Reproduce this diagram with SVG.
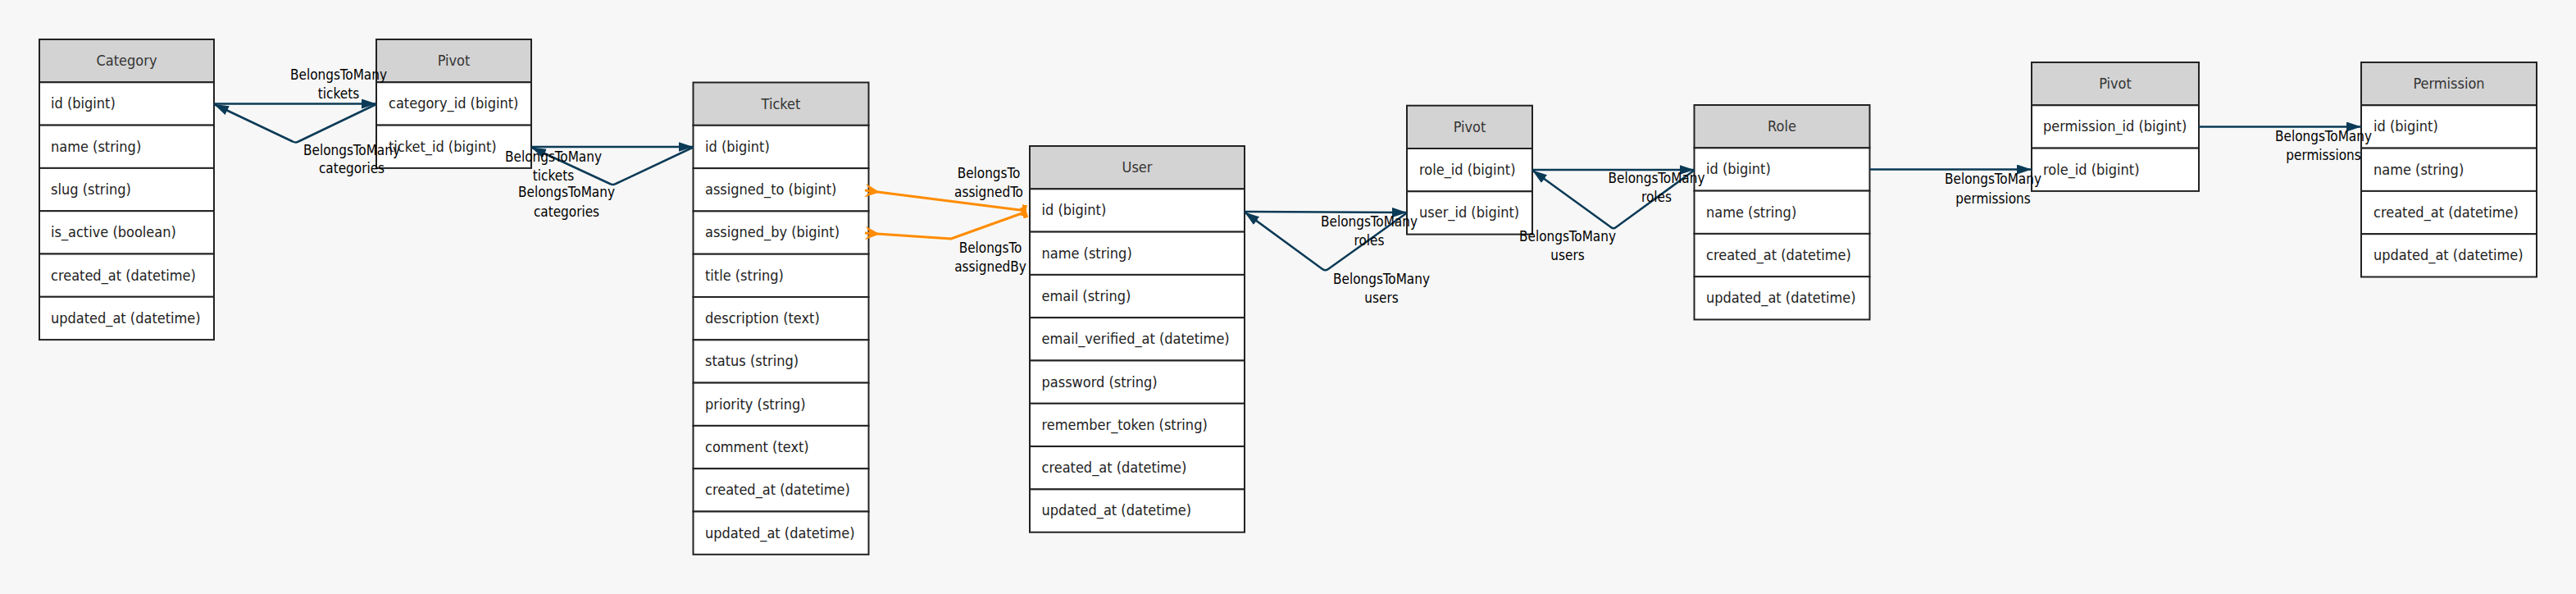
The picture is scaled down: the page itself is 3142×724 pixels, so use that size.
<svg xmlns="http://www.w3.org/2000/svg" width="3142" height="724" viewBox="0 0 3142 724">
<style>
.hdr{fill:#d3d3d3;stroke:#222;stroke-width:2}
.row{fill:#fff;stroke:#222;stroke-width:2}
.ht{font-family:"DejaVu Sans Condensed","DejaVu Sans",sans-serif;font-stretch:condensed;font-size:18px;fill:#333;text-anchor:middle}
.ft{font-family:"DejaVu Sans Condensed","DejaVu Sans",sans-serif;font-stretch:condensed;font-size:18px;fill:#222}
.lb{font-family:"DejaVu Sans Condensed","DejaVu Sans",sans-serif;font-stretch:condensed;font-size:17px;fill:#000;text-anchor:middle}
.nv{fill:none;stroke:#0b3a56;stroke-width:2.5;stroke-linejoin:round;marker-end:url(#arr)}
.or{fill:none;stroke:#ff8c00;stroke-width:3;stroke-linejoin:round;marker-start:url(#vee);marker-end:url(#blk)}
</style>
<defs>
<marker id="arr" viewBox="0 0 18 12" refX="18" refY="6" markerWidth="18" markerHeight="12" markerUnits="userSpaceOnUse" orient="auto"><path d="M0,0 L18,6 L0,12 z" fill="#0b3a56"/></marker>
<marker id="vee" viewBox="0 0 18 17" refX="0" refY="8.5" markerWidth="18" markerHeight="17" markerUnits="userSpaceOnUse" orient="auto"><path d="M0,0 L18,8.5 L0,17 L7,8.5 z" fill="#ff8c00"/></marker>
<marker id="blk" viewBox="0 0 6 14" refX="6" refY="7" markerWidth="6" markerHeight="14" markerUnits="userSpaceOnUse" orient="auto"><rect x="0" y="0" width="6" height="14" fill="#ff8c00"/></marker>
</defs>
<rect x="0" y="0" width="3142" height="724" fill="#f7f7f7"/>

<g id="category">
<rect class="hdr" x="48" y="48" width="213" height="52.3"/>
<rect class="row" x="48" y="100.3" width="213" height="52.3"/>
<rect class="row" x="48" y="152.6" width="213" height="52.3"/>
<rect class="row" x="48" y="204.9" width="213" height="52.3"/>
<rect class="row" x="48" y="257.2" width="213" height="52.3"/>
<rect class="row" x="48" y="309.5" width="213" height="52.3"/>
<rect class="row" x="48" y="361.8" width="213" height="52.3"/>
<text class="ht" x="154.5" y="80">Category</text>
<text class="ft" x="62" y="132.3">id (bigint)</text>
<text class="ft" x="62" y="184.6">name (string)</text>
<text class="ft" x="62" y="236.9">slug (string)</text>
<text class="ft" x="62" y="289.2">is_active (boolean)</text>
<text class="ft" x="62" y="341.5">created_at (datetime)</text>
<text class="ft" x="62" y="393.8">updated_at (datetime)</text>
</g>

<g id="pivot_category_ticket">
<rect class="hdr" x="459" y="48" width="189" height="52.3"/>
<rect class="row" x="459" y="100.3" width="189" height="52.3"/>
<rect class="row" x="459" y="152.6" width="189" height="52.3"/>
<text class="ht" x="553.5" y="80">Pivot</text>
<text class="ft" x="474" y="132.3">category_id (bigint)</text>
<text class="ft" x="474" y="184.6">ticket_id (bigint)</text>
</g>

<g id="ticket">
<rect class="hdr" x="845.5" y="100.5" width="214" height="52.3"/>
<rect class="row" x="845.5" y="152.8" width="214" height="52.3"/>
<rect class="row" x="845.5" y="205.1" width="214" height="52.3"/>
<rect class="row" x="845.5" y="257.4" width="214" height="52.3"/>
<rect class="row" x="845.5" y="309.7" width="214" height="52.3"/>
<rect class="row" x="845.5" y="362" width="214" height="52.3"/>
<rect class="row" x="845.5" y="414.3" width="214" height="52.3"/>
<rect class="row" x="845.5" y="466.6" width="214" height="52.3"/>
<rect class="row" x="845.5" y="518.9" width="214" height="52.3"/>
<rect class="row" x="845.5" y="571.2" width="214" height="52.3"/>
<rect class="row" x="845.5" y="623.5" width="214" height="52.3"/>
<text class="ht" x="952.5" y="132.5">Ticket</text>
<text class="ft" x="860" y="184.8">id (bigint)</text>
<text class="ft" x="860" y="237.1">assigned_to (bigint)</text>
<text class="ft" x="860" y="289.4">assigned_by (bigint)</text>
<text class="ft" x="860" y="341.7">title (string)</text>
<text class="ft" x="860" y="394">description (text)</text>
<text class="ft" x="860" y="446.3">status (string)</text>
<text class="ft" x="860" y="498.6">priority (string)</text>
<text class="ft" x="860" y="550.9">comment (text)</text>
<text class="ft" x="860" y="603.2">created_at (datetime)</text>
<text class="ft" x="860" y="655.5">updated_at (datetime)</text>
</g>

<g id="user">
<rect class="hdr" x="1256" y="178" width="262" height="52.3"/>
<rect class="row" x="1256" y="230.3" width="262" height="52.3"/>
<rect class="row" x="1256" y="282.6" width="262" height="52.3"/>
<rect class="row" x="1256" y="334.9" width="262" height="52.3"/>
<rect class="row" x="1256" y="387.2" width="262" height="52.3"/>
<rect class="row" x="1256" y="439.5" width="262" height="52.3"/>
<rect class="row" x="1256" y="491.8" width="262" height="52.3"/>
<rect class="row" x="1256" y="544.1" width="262" height="52.3"/>
<rect class="row" x="1256" y="596.4" width="262" height="52.3"/>
<text class="ht" x="1387" y="210">User</text>
<text class="ft" x="1270.5" y="262.3">id (bigint)</text>
<text class="ft" x="1270.5" y="314.6">name (string)</text>
<text class="ft" x="1270.5" y="366.9">email (string)</text>
<text class="ft" x="1270.5" y="419.2">email_verified_at (datetime)</text>
<text class="ft" x="1270.5" y="471.5">password (string)</text>
<text class="ft" x="1270.5" y="523.8">remember_token (string)</text>
<text class="ft" x="1270.5" y="576.1">created_at (datetime)</text>
<text class="ft" x="1270.5" y="628.4">updated_at (datetime)</text>
</g>

<g id="pivot_role_user">
<rect class="hdr" x="1716" y="128.7" width="153" height="52.3"/>
<rect class="row" x="1716" y="181" width="153" height="52.3"/>
<rect class="row" x="1716" y="233.3" width="153" height="52.3"/>
<text class="ht" x="1792.5" y="160.7">Pivot</text>
<text class="ft" x="1731" y="213">role_id (bigint)</text>
<text class="ft" x="1731" y="265.3">user_id (bigint)</text>
</g>

<g id="role">
<rect class="hdr" x="2066.5" y="128" width="214" height="52.3"/>
<rect class="row" x="2066.5" y="180.3" width="214" height="52.3"/>
<rect class="row" x="2066.5" y="232.6" width="214" height="52.3"/>
<rect class="row" x="2066.5" y="284.9" width="214" height="52.3"/>
<rect class="row" x="2066.5" y="337.2" width="214" height="52.3"/>
<text class="ht" x="2173.5" y="160">Role</text>
<text class="ft" x="2081" y="212.3">id (bigint)</text>
<text class="ft" x="2081" y="264.6">name (string)</text>
<text class="ft" x="2081" y="316.9">created_at (datetime)</text>
<text class="ft" x="2081" y="369.2">updated_at (datetime)</text>
</g>

<g id="pivot_permission_role">
<rect class="hdr" x="2478" y="76" width="204" height="52.3"/>
<rect class="row" x="2478" y="128.3" width="204" height="52.3"/>
<rect class="row" x="2478" y="180.6" width="204" height="52.3"/>
<text class="ht" x="2580" y="108">Pivot</text>
<text class="ft" x="2492" y="160.3">permission_id (bigint)</text>
<text class="ft" x="2492" y="212.6">role_id (bigint)</text>
</g>

<g id="permission">
<rect class="hdr" x="2880" y="76" width="214" height="52.3"/>
<rect class="row" x="2880" y="128.3" width="214" height="52.3"/>
<rect class="row" x="2880" y="180.6" width="214" height="52.3"/>
<rect class="row" x="2880" y="232.9" width="214" height="52.3"/>
<rect class="row" x="2880" y="285.2" width="214" height="52.3"/>
<text class="ht" x="2987" y="108">Permission</text>
<text class="ft" x="2895" y="160.3">id (bigint)</text>
<text class="ft" x="2895" y="212.6">name (string)</text>
<text class="ft" x="2895" y="264.9">created_at (datetime)</text>
<text class="ft" x="2895" y="317.2">updated_at (datetime)</text>
</g>

<g id="connectors">
<path class="nv" d="M261,126.5 L459,126.5"/>
<path class="nv" d="M459,127 L364,172.5 Q360.7,174.5 357,172.5 L261,127"/>
<path class="nv" d="M648,179 L845.5,179"/>
<path class="nv" d="M845.5,179.5 L751,224 Q747.5,226 744,224 L648,179.5"/>
<path class="or" d="M1055,232 L1252,257"/>
<path class="or" d="M1055,284 L1160,291 L1252,258"/>
<path class="nv" d="M1518,258 L1716,259"/>
<path class="nv" d="M1716,259.5 L1620,328 Q1616.5,330.5 1613,328 L1518,258.5"/>
<path class="nv" d="M1869,207 L2066.5,207"/>
<path class="nv" d="M2066.5,207.5 L1971,277 Q1968,279.5 1965,277 L1869,207.5"/>
<path class="nv" d="M2280.5,206.5 L2478,206.5"/>
<path class="nv" d="M2682,154.5 L2880,154.5"/>
<text class="lb" x="413" y="97">BelongsToMany</text>
<text class="lb" x="413" y="120">tickets</text>
<text class="lb" x="429" y="189">BelongsToMany</text>
<text class="lb" x="429" y="211">categories</text>
<text class="lb" x="675" y="197">BelongsToMany</text>
<text class="lb" x="675" y="220">tickets</text>
<text class="lb" x="691" y="240">BelongsToMany</text>
<text class="lb" x="691" y="264">categories</text>
<text class="lb" x="1206" y="217">BelongsTo</text>
<text class="lb" x="1206" y="240">assignedTo</text>
<text class="lb" x="1208" y="308">BelongsTo</text>
<text class="lb" x="1208" y="331">assignedBy</text>
<text class="lb" x="1670" y="276">BelongsToMany</text>
<text class="lb" x="1670" y="299">roles</text>
<text class="lb" x="1685" y="346">BelongsToMany</text>
<text class="lb" x="1685" y="369">users</text>
<text class="lb" x="2020.5" y="223">BelongsToMany</text>
<text class="lb" x="2020.5" y="246">roles</text>
<text class="lb" x="1912" y="294">BelongsToMany</text>
<text class="lb" x="1912" y="317">users</text>
<text class="lb" x="2431" y="224">BelongsToMany</text>
<text class="lb" x="2431" y="248">permissions</text>
<text class="lb" x="2834" y="172">BelongsToMany</text>
<text class="lb" x="2834" y="195">permissions</text>
</g>
</svg>
